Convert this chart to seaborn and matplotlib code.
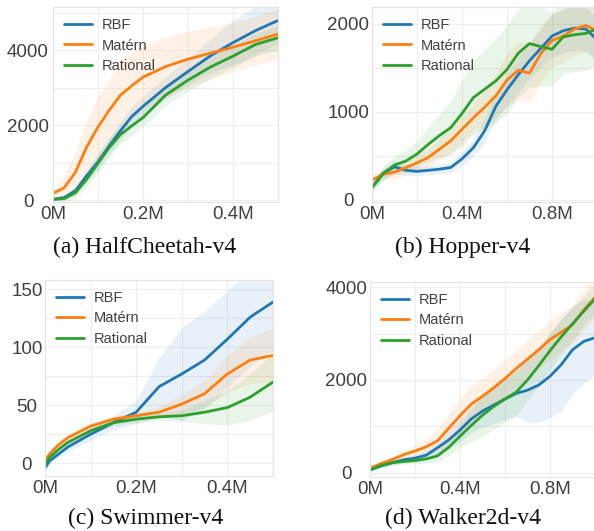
import numpy as np
import pandas as pd
import matplotlib
matplotlib.use('Agg')
import matplotlib.pyplot as plt
from matplotlib.ticker import FuncFormatter, MultipleLocator
import seaborn as sns

# --- data (means and band half-widths) ---
methods = ['RBF', 'Matérn', 'Rational']
colors = ['#1f77b4', '#ff7f0e', '#2ca02c']

# (a) HalfCheetah-v4
x_a = [0, 0.025, 0.05, 0.075, 0.1, 0.125, 0.15, 0.175, 0.2,
       0.25, 0.3, 0.35, 0.4, 0.45, 0.5]
rbf_a = [20, 70, 250, 650, 1020, 1450, 1850, 2230, 2500,
         3000, 3430, 3850, 4200, 4520, 4790]
matern_a = [180, 330, 750, 1420, 1950, 2400, 2800, 3050, 3280,
            3560, 3760, 3920, 4080, 4250, 4430]
rational_a = [20, 40, 200, 560, 980, 1400, 1750, 1980, 2200,
              2800, 3200, 3550, 3840, 4150, 4330]
rbf_a_sd = [40, 60, 120, 160, 200, 230, 250, 270, 280,
            300, 350, 450, 600, 650, 600]
matern_a_sd = [100, 300, 550, 700, 800, 830, 850, 850, 850,
               800, 750, 700, 650, 650, 680]
rational_a_sd = [40, 80, 150, 200, 250, 250, 250, 250, 250,
                 280, 300, 300, 300, 300, 330]

# (b) Hopper-v4
x_b = [0, 0.05, 0.1, 0.15, 0.2, 0.25, 0.3, 0.35, 0.4, 0.45, 0.5,
       0.55, 0.6, 0.65, 0.7, 0.75, 0.8, 0.85, 0.9, 0.95, 1.0]
rbf_b = [140, 300, 375, 335, 323, 335, 348, 367, 465, 590, 780,
         1060, 1250, 1420, 1580, 1720, 1860, 1920, 1950, 1940, 1820]
matern_b = [225, 290, 315, 365, 420, 480, 575, 670, 800, 930, 1050,
            1180, 1360, 1470, 1440, 1660, 1810, 1860, 1940, 1980, 1920]
rational_b = [140, 300, 395, 440, 520, 630, 730, 820, 980, 1160, 1255,
              1350, 1480, 1665, 1775, 1740, 1710, 1850, 1875, 1890, 1940]
rbf_b_sd = [40, 60, 80, 60, 50, 50, 50, 60, 80, 100, 130,
            150, 180, 200, 200, 220, 250, 250, 250, 250, 250]
matern_b_sd = [60, 60, 80, 80, 100, 100, 120, 150, 150, 150, 200,
               250, 300, 330, 330, 320, 300, 300, 300, 300, 300]
rational_b_sd = [60, 80, 100, 120, 150, 200, 250, 300, 380, 420, 450,
                 480, 500, 500, 500, 450, 420, 420, 420, 420, 420]

# (c) Swimmer-v4
x_c = [0, 0.01, 0.03, 0.05, 0.1, 0.15, 0.2, 0.25, 0.3, 0.35, 0.4, 0.45, 0.5]
rbf_c = [-4, 2, 8, 14, 25, 35, 44, 66, 77, 89, 107, 126, 139]
matern_c = [2, 8, 16, 22, 32, 38, 41, 44, 51, 60, 77, 89, 93]
rational_c = [-1, 5, 12, 18, 28, 35, 38, 40, 41, 44, 48, 57, 70]
rbf_c_sd = [2, 3, 3, 4, 5, 6, 10, 25, 40, 42, 42, 42, 42]
matern_c_sd = [1, 2, 2, 3, 3, 3, 3, 5, 8, 12, 16, 20, 23]
rational_c_sd = [1, 2, 2, 2, 3, 3, 3, 3, 5, 10, 15, 20, 25]

# (d) Walker2d-v4
x_d = x_b
rbf_d = [65, 150, 220, 280, 315, 380, 540, 710, 920, 1160, 1330,
         1460, 1590, 1710, 1780, 1890, 2080, 2330, 2650, 2830, 2910]
matern_d = [100, 200, 290, 390, 470, 560, 690, 960, 1230, 1480, 1650,
            1830, 2030, 2250, 2450, 2650, 2870, 3030, 3190, 3510, 3780]
rational_d = [65, 160, 220, 245, 265, 300, 365, 550, 790, 1020, 1240,
              1430, 1590, 1740, 2000, 2310, 2630, 2930, 3210, 3480, 3750]
rbf_d_sd = [30, 50, 60, 70, 80, 100, 150, 200, 250, 300, 350,
            400, 450, 500, 700, 800, 900, 1000, 950, 900, 800]
matern_d_sd = [30, 60, 80, 100, 130, 180, 250, 320, 380, 400, 400,
               400, 400, 400, 420, 420, 420, 420, 420, 420, 420]
rational_d_sd = [30, 40, 50, 60, 70, 90, 120, 180, 250, 350, 450,
                 500, 500, 500, 450, 420, 400, 380, 350, 320, 300]

captions = ['(a) HalfCheetah-v4', '(b) Hopper-v4', '(c) Swimmer-v4', '(d) Walker2d-v4']

sns.set_theme(style='whitegrid')
plt.rcParams['font.family'] = ['Liberation Sans', 'DejaVu Sans']
TXT = '#404040'

fig = plt.figure(figsize=(5.94, 5.31), dpi=100)
W, H = 594, 531


def px_axes(left, top, width, height):
    return fig.add_axes([left / W, 1 - (top + height) / H, width / W, height / H])


panels = [
    dict(pos=(53, 7, 225, 195), x=x_a, ys=[rbf_a, matern_a, rational_a],
         sds=[rbf_a_sd, matern_a_sd, rational_a_sd], xlim=0.5, ylim=(-50, 5150),
         xmaj=0.2, xmin=0.1, ymaj=2000, ymin=1000, ypad=18),
    dict(pos=(372, 7, 225, 195), x=x_b, ys=[rbf_b, matern_b, rational_b],
         sds=[rbf_b_sd, matern_b_sd, rational_b_sd], xlim=1.0, ylim=(-25, 2190),
         xmaj=0.4, xmin=0.2, ymaj=1000, ymin=500, ypad=17),
    dict(pos=(45, 280, 228, 196), x=x_c, ys=[rbf_c, matern_c, rational_c],
         sds=[rbf_c_sd, matern_c_sd, rational_c_sd], xlim=0.5, ylim=(-11, 158),
         xmaj=0.2, xmin=0.1, ymaj=50, ymin=25, ypad=13),
    dict(pos=(370, 282, 225, 195), x=x_d, ys=[rbf_d, matern_d, rational_d],
         sds=[rbf_d_sd, matern_d_sd, rational_d_sd], xlim=1.0, ylim=(-90, 4110),
         xmaj=0.4, xmin=0.2, ymaj=2000, ymin=1000, ypad=17),
]

for p in panels:
    ax = px_axes(*p['pos'])
    x = np.array(p['x']) * 1e6
    frames = []
    for name, y in zip(methods, p['ys']):
        frames.append(pd.DataFrame({'step': x, 'ret': y, 'method': name}))
    df = pd.concat(frames, ignore_index=True)
    # shaded spread
    for name, y, sd, c in zip(methods, p['ys'], p['sds'], colors):
        y = np.array(y, dtype=float)
        sd = np.array(sd, dtype=float)
        ax.fill_between(x, y - sd, y + sd, color=c, alpha=0.1, lw=0)
    sns.lineplot(data=df, x='step', y='ret', hue='method', palette=colors,
                 lw=2, ax=ax, legend=True)
    ax.set_xlim(0, p['xlim'] * 1e6)
    ax.set_ylim(*p['ylim'])
    ax.xaxis.set_major_locator(MultipleLocator(p['xmaj'] * 1e6))
    ax.xaxis.set_minor_locator(MultipleLocator(p['xmin'] * 1e6))
    ax.yaxis.set_major_locator(MultipleLocator(p['ymaj']))
    ax.yaxis.set_minor_locator(MultipleLocator(p['ymin']))
    ax.xaxis.set_major_formatter(FuncFormatter(lambda v, pos: f'{v / 1e6:g}M'))
    ax.grid(which='both', color='#eeeeee', lw=0.8)
    ax.set_xlabel('')
    ax.set_ylabel('')
    ax.tick_params(axis='both', which='both', length=0, labelsize=13.5, colors=TXT)
    ax.tick_params(axis='x', pad=3)
    ax.tick_params(axis='y', pad=p['ypad'])
    for lab in ax.get_yticklabels():
        lab.set_horizontalalignment('center')
    for s in ax.spines.values():
        s.set_color('#e3e3e3')
        s.set_linewidth(0.8)
    leg = ax.legend(loc='upper left', frameon=False, fontsize=10.5, handlelength=1.9,
                    handletextpad=0.7, labelspacing=0.45, borderaxespad=0.35)
    for t in leg.get_texts():
        t.set_color(TXT)
    for h in leg.get_lines():
        h.set_linewidth(2)

cap_pos = [(145, 253), (463, 253), (146, 524), (463, 524)]
for (cx, cy), cap in zip(cap_pos, captions):
    fig.text(cx / W, 1 - cy / H, cap, ha='center', va='baseline',
             family='Liberation Serif', fontsize=17, color='#111111')

fig.savefig('out.png', dpi=100)
